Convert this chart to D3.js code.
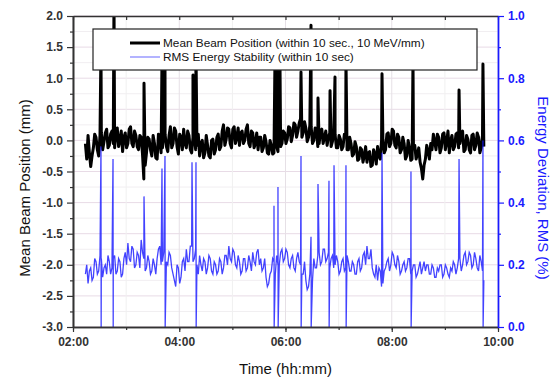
<!DOCTYPE html>
<html>
<head>
<meta charset="utf-8">
<script src="https://cdn.jsdelivr.net/npm/d3@7"></script>
<style>
    body { margin: 0; background: #fff; }
    #chart { width: 554px; height: 377px; }
    text { font-family: Arial, "Liberation Sans", sans-serif; }
</style>
</head>
<body>
<div id="chart"></div>
<script>

// sample clock: minutes after 02:00, one reading every 3 min
// (the "Mid" arrays hold the readings half a step later)
const sampleStart = 14;
const sampleStep = 3;

// mean beam position (mm), left axis
const beamValues = [
    -0.05, 0.08, -0.42, -0.12, 0.05, -0.25, 0.12, -0.02, 0.18, -0.08,
    0.15, -0.12, 0.2, 0.0, -0.18, 0.12, -0.05, 0.22, -0.1, 0.08,
    -0.15, 0.05, -0.62, -0.2, 0.02, -0.25, -0.05, -0.3, 0.0, -0.12,
    0.1, -0.18, 0.22, -0.05, 0.15, -0.22, 0.05, 0.18, -0.12, 0.08,
    -0.2, 0.12, -0.08, -0.25, 0.0, -0.2, -0.08, -0.28, 0.02, -0.15,
    0.1, -0.1, 0.25, 0.02, 0.18, -0.12, 0.22, 0.05, -0.08, 0.15,
    0.0, 0.25, -0.1, 0.12, -0.05, -0.15, 0.05, -0.12, -0.02, -0.22,
    -0.08, -0.2, -0.1, 0.05, -0.05, 0.12, 0.02, 0.2, 0.08, 0.25,
    0.15, 0.35, 0.12, 0.2, 0.05, 0.22, 0.0, 0.15, -0.05, 0.18,
    0.05, -0.08, 0.12, -0.02, 0.1, -0.12, 0.02, -0.1, 0.08, -0.15,
    -0.05, -0.22, -0.1, -0.3, -0.15, -0.25, -0.35, -0.18, -0.4, -0.22,
    -0.1, -0.3, 0.02, -0.15, 0.12, -0.05, 0.15, -0.12, 0.05, -0.15,
    -0.05, -0.25, -0.12, -0.3, -0.08, -0.22, -0.35, -0.62, -0.3, -0.18,
    -0.05, 0.1, -0.15, 0.05, -0.12, 0.12, -0.02, -0.2, 0.08, -0.1,
    0.12, -0.05, 0.15, -0.15, 0.02, -0.2, 0.1, -0.08, 0.05, -0.12,
    -0.1
];
const beamMidValues = [
    -0.3, -0.2, -0.25, 0.1, -0.15, 0.08, -0.15, 0.12, -0.12, 0.1,
    -0.05, 0.12, -0.1, 0.15, 0.05, -0.12, 0.18, -0.05, 0.15, -0.1,
    0.08, -0.22, -0.4, 0.05, -0.15, 0.08, -0.28, 0.1, -0.2, 0.12,
    -0.1, 0.08, -0.12, 0.2, -0.1, 0.1, -0.15, -0.05, 0.15, -0.15,
    0.05, -0.15, 0.1, -0.05, -0.28, 0.08, -0.25, 0.0, -0.22, 0.05,
    -0.15, 0.15, -0.08, 0.2, -0.05, 0.18, -0.05, 0.2, 0.12, -0.05,
    0.18, -0.05, 0.15, -0.12, 0.12, 0.05, -0.18, 0.08, -0.2, 0.0,
    -0.22, 0.02, -0.18, -0.1, 0.15, -0.05, 0.22, -0.02, 0.28, 0.05,
    0.28, 0.05, 0.3, -0.02, 0.25, -0.05, 0.2, -0.1, 0.15, -0.05,
    0.15, 0.05, -0.1, 0.15, -0.12, 0.08, -0.15, 0.1, -0.15, 0.05,
    -0.25, -0.02, -0.32, -0.12, -0.35, -0.1, -0.2, -0.42, -0.15, -0.38,
    -0.25, 0.0, -0.2, 0.1, -0.1, 0.18, -0.08, 0.1, -0.2, 0.05,
    -0.3, 0.0, -0.32, -0.1, -0.3, -0.12, -0.45, -0.4, -0.08, -0.3,
    -0.15, -0.02, 0.1, -0.2, 0.1, -0.15, 0.15, 0.0, -0.15, 0.1,
    -0.12, 0.1, -0.18, 0.08, -0.15, 0.08, -0.15, 0.12, -0.2, 0.08
];
const beamSpikeMinutes = [31.6, 46.3, 80.2, 100.5, 103.9, 135.5, 138.9, 228.1, 231.5, 233.8,
    257.5, 268.8, 276.7, 290.3, 295.9, 308.3, 349, 384, 436, 463];
const beamSpikePeaks = [1.5, 2.3, 0.92, 1.3, 1.4, 1.05, 1.45, 1.3, 1.35, 1.2,
    1.1, 1.85, 0.68, 0.8, 1.02, 1.3, 1.07, 1.3, 0.81, 1.23];

// RMS energy deviation (%), right axis
const rmsValues = [
    0.17, 0.14, 0.19, 0.16, 0.21, 0.18, 0.22, 0.19, 0.17, 0.21,
    0.19, 0.23, 0.18, 0.21, 0.17, 0.24, 0.27, 0.21, 0.25, 0.2,
    0.23, 0.28, 0.22, 0.19, 0.21, 0.18, 0.2, 0.22, 0.26, 0.21,
    0.25, 0.2, 0.23, 0.17, 0.13, 0.19, 0.16, 0.22, 0.25, 0.21,
    0.26, 0.22, 0.2, 0.23, 0.18, 0.21, 0.19, 0.22, 0.17, 0.2,
    0.18, 0.21, 0.19, 0.23, 0.26, 0.21, 0.24, 0.19, 0.21, 0.18,
    0.22, 0.19, 0.21, 0.24, 0.2, 0.25, 0.22, 0.19, 0.16, 0.14,
    0.18, 0.21, 0.23, 0.2, 0.25, 0.22, 0.24, 0.19, 0.23, 0.18,
    0.24, 0.2, 0.17, 0.15, 0.13, 0.18, 0.22, 0.19, 0.24, 0.21,
    0.25, 0.22, 0.19, 0.23, 0.2, 0.21, 0.18, 0.22, 0.19, 0.21,
    0.18, 0.2, 0.17, 0.22, 0.19, 0.24, 0.26, 0.22, 0.19, 0.16,
    0.15, 0.18, 0.14, 0.19, 0.22, 0.2, 0.23, 0.19, 0.21, 0.18,
    0.21, 0.19, 0.22, 0.18, 0.2, 0.17, 0.21, 0.19, 0.18, 0.2,
    0.17, 0.19, 0.16, 0.18, 0.2, 0.17, 0.19, 0.16, 0.18, 0.2,
    0.19, 0.22, 0.2, 0.24, 0.21, 0.23, 0.2, 0.22, 0.18, 0.21,
    0.15
];
const rmsMidValues = [
    0.2, 0.18, 0.15, 0.22, 0.17, 0.23, 0.16, 0.2, 0.23, 0.17,
    0.22, 0.17, 0.22, 0.16, 0.22, 0.2, 0.22, 0.26, 0.19, 0.24,
    0.19, 0.24, 0.18, 0.23, 0.17, 0.22, 0.17, 0.25, 0.2, 0.24,
    0.21, 0.24, 0.19, 0.15, 0.2, 0.14, 0.21, 0.18, 0.21, 0.26,
    0.21, 0.25, 0.17, 0.2, 0.22, 0.17, 0.23, 0.18, 0.21, 0.17,
    0.22, 0.17, 0.23, 0.2, 0.22, 0.25, 0.2, 0.23, 0.17, 0.22,
    0.18, 0.23, 0.18, 0.21, 0.24, 0.2, 0.18, 0.22, 0.13, 0.17,
    0.22, 0.17, 0.2, 0.24, 0.21, 0.25, 0.2, 0.22, 0.19, 0.22,
    0.21, 0.17, 0.21, 0.12, 0.17, 0.15, 0.19, 0.23, 0.2, 0.25,
    0.21, 0.24, 0.22, 0.19, 0.23, 0.17, 0.21, 0.18, 0.23, 0.18,
    0.21, 0.17, 0.21, 0.18, 0.23, 0.2, 0.22, 0.25, 0.17, 0.2,
    0.19, 0.13, 0.18, 0.21, 0.18, 0.24, 0.2, 0.23, 0.17, 0.2,
    0.18, 0.22, 0.17, 0.2, 0.16, 0.19, 0.17, 0.21, 0.2, 0.17,
    0.2, 0.16, 0.19, 0.2, 0.16, 0.2, 0.17, 0.19, 0.21, 0.17,
    0.22, 0.18, 0.23, 0.2, 0.24, 0.19, 0.24, 0.19, 0.23, 0.18
];
const rmsSpikeMinutes = [31.6, 45.2, 80.2, 100.5, 103.9, 134.4, 138.9, 227, 231.5, 257.5,
    268.8, 276.7, 289.1, 294.8, 308.3, 349, 381.7, 436, 463];
const rmsSpikeHighs = [0.58, 0.54, 0.42, 0.51, 0.55, 0.53, 0.53, 0.39, 0.45, 0.55,
    0.29, 0.46, 0.47, 0.52, 0.52, 0.56, 0.5, 0.54, 0.6];
// null = the spike does not drop to zero
const rmsSpikeLows = [0, 0, null, null, 0, null, 0, 0, 0, 0,
    0, null, 0, null, 0, null, 0, null, 0];

const seriesNames = ["Mean Beam Position (within 10 sec., 10 MeV/mm)", "RMS Energy Stability (within 10 sec)"];
const leftTicks = [-3.0, -2.5, -2.0, -1.5, -1.0, -0.5, 0.0, 0.5, 1.0, 1.5, 2.0];
const leftMinorTicks = [-2.75, -2.25, -1.75, -1.25, -0.75, -0.25, 0.25, 0.75, 1.25, 1.75];
const rightTicks = [0.0, 0.2, 0.4, 0.6, 0.8, 1.0];
const rightMinorTicks = [0.1, 0.3, 0.5, 0.7, 0.9];


class BeamVis {

    constructor(parentElement) {
        this.parentElement = parentElement;
        this.dayStart = new Date(2000, 0, 1, 2, 0);
        this.initVis();
    }

    toDate(minutes) {
        return new Date(this.dayStart.getTime() + minutes * 60000);
    }

    // readings + half-step readings, spikes get added after
    buildPoints(values, midValues) {
        let pts = values.map((v, i) => ({t: sampleStart + i * sampleStep, v: v}));
        midValues.forEach((v, i) => pts.push({t: sampleStart + (i + 0.5) * sampleStep, v: v}));
        return pts;
    }

    initVis() {
        let vis = this;

        vis.margin = {top: 16, right: 56, bottom: 50, left: 73};
        vis.width = 554 - vis.margin.left - vis.margin.right;
        vis.height = 377 - vis.margin.top - vis.margin.bottom;

        vis.svg = d3.select("#" + vis.parentElement).append("svg")
            .attr("width", 554)
            .attr("height", 377)
            .append("g")
            .attr("transform", "translate(" + vis.margin.left + "," + vis.margin.top + ")");

        // scales
        vis.x = d3.scaleTime()
            .domain([vis.toDate(0), vis.toDate(480)])
            .range([0, vis.width]);
        vis.yLeft = d3.scaleLinear().domain([-3, 2]).range([vis.height, 0]);
        vis.yRight = d3.scaleLinear().domain([0, 1]).range([vis.height, 0]);

        // grid
        let grid = vis.svg.append("g").attr("class", "grid");
        grid.selectAll(".hminor").data(leftMinorTicks).join("line")
            .attr("x1", 0).attr("x2", vis.width)
            .attr("y1", d => vis.yLeft(d)).attr("y2", d => vis.yLeft(d))
            .attr("stroke", "#f1eef1").attr("stroke-width", 1);
        grid.selectAll(".hmajor").data(leftTicks).join("line")
            .attr("x1", 0).attr("x2", vis.width)
            .attr("y1", d => vis.yLeft(d)).attr("y2", d => vis.yLeft(d))
            .attr("stroke", "#e8dbe6").attr("stroke-width", 1);
        grid.selectAll(".vgrid").data(vis.x.ticks(d3.timeHour.every(1))).join("line")
            .attr("x1", d => vis.x(d)).attr("x2", d => vis.x(d))
            .attr("y1", 0).attr("y2", vis.height)
            .attr("stroke", d => d.getHours() % 2 === 0 ? "#e6e0e6" : "#f0f0f0")
            .attr("stroke-width", 1);

        vis.svg.append("clipPath").attr("id", "plotClip")
            .append("rect").attr("width", vis.width).attr("height", vis.height);

        vis.plot = vis.svg.append("g").attr("clip-path", "url(#plotClip)");

        vis.updateVis();
        vis.drawAxes();
        vis.drawLegend();
    }

    updateVis() {
        let vis = this;

        let beamPoints = vis.buildPoints(beamValues, beamMidValues);
        beamSpikeMinutes.forEach((m, i) => beamPoints.push({t: m, v: beamSpikePeaks[i]}));
        beamPoints.sort((a, b) => a.t - b.t);

        let rmsPoints = vis.buildPoints(rmsValues, rmsMidValues);
        rmsSpikeMinutes.forEach((m, i) => {
            rmsPoints.push({t: m, v: rmsSpikeHighs[i]});
            if (rmsSpikeLows[i] !== null) {
                rmsPoints.push({t: m + 0.2, v: rmsSpikeLows[i]});
            }
        });
        rmsPoints.sort((a, b) => a.t - b.t);

        let beamLine = d3.line()
            .x(d => vis.x(vis.toDate(d.t)))
            .y(d => vis.yLeft(d.v));
        let rmsLine = d3.line()
            .x(d => vis.x(vis.toDate(d.t)))
            .y(d => vis.yRight(d.v));

        vis.plot.append("path")
            .datum(beamPoints)
            .attr("d", beamLine)
            .attr("fill", "none")
            .attr("stroke", "#000")
            .attr("stroke-width", 3)
            .attr("stroke-linejoin", "round");

        vis.plot.append("path")
            .datum(rmsPoints)
            .attr("d", rmsLine)
            .attr("fill", "none")
            .attr("stroke", "#1414ff")
            .attr("stroke-opacity", 0.8)
            .attr("stroke-width", 1.3);
    }

    drawAxes() {
        let vis = this;
        let fmt = d => d.toFixed(1);
        let blue = "#1a1aff";

        // left
        vis.svg.append("g")
            .call(d3.axisLeft(vis.yLeft).tickValues(leftMinorTicks).tickSize(3).tickFormat("").tickSizeOuter(0));
        let left = vis.svg.append("g")
            .call(d3.axisLeft(vis.yLeft).tickValues(leftTicks).tickSize(6).tickPadding(4).tickFormat(fmt).tickSizeOuter(0));
        left.selectAll("text").style("font-size", "12px").style("font-weight", "bold").attr("fill", "#333");

        // bottom
        vis.svg.append("g")
            .attr("transform", "translate(0," + vis.height + ")")
            .call(d3.axisBottom(vis.x).ticks(d3.timeHour.every(1)).tickSize(3).tickFormat("").tickSizeOuter(0));
        let bottom = vis.svg.append("g")
            .attr("transform", "translate(0," + vis.height + ")")
            .call(d3.axisBottom(vis.x).ticks(d3.timeHour.every(2)).tickSize(5).tickPadding(5)
                .tickFormat(d3.timeFormat("%H:%M")).tickSizeOuter(0));
        bottom.selectAll("text").style("font-size", "12px").style("font-weight", "bold").attr("fill", "#333");

        // top, inward ticks, no labels
        vis.svg.append("g")
            .call(d3.axisTop(vis.x).ticks(d3.timeHour.every(1)).tickSize(-4).tickFormat("").tickSizeOuter(0));

        vis.svg.selectAll(".domain").attr("stroke", "#333").attr("stroke-width", 1.6);
        vis.svg.selectAll(".tick line").attr("stroke", "#333").attr("stroke-width", 1.2);

        // right, blue
        let rightMinor = vis.svg.append("g")
            .attr("transform", "translate(" + vis.width + ",0)")
            .call(d3.axisRight(vis.yRight).tickValues(rightMinorTicks).tickSize(3).tickFormat("").tickSizeOuter(0));
        let right = vis.svg.append("g")
            .attr("transform", "translate(" + vis.width + ",0)")
            .call(d3.axisRight(vis.yRight).tickValues(rightTicks).tickSize(6).tickPadding(4).tickFormat(fmt).tickSizeOuter(0));
        right.selectAll("text").style("font-size", "12px").style("font-weight", "bold").attr("fill", blue);
        [rightMinor, right].forEach(g => {
            g.selectAll(".tick line").attr("stroke", blue).attr("stroke-width", 1.2);
            g.select(".domain").attr("stroke", blue).attr("stroke-width", 1.4);
        });

        // titles
        vis.svg.append("text")
            .attr("transform", "translate(" + (25 - vis.margin.left) + "," + (188 - vis.margin.top) + ") rotate(-90)")
            .attr("text-anchor", "middle")
            .attr("dy", "0.35em")
            .style("font-size", "15px")
            .attr("fill", "#111")
            .text("Mean Beam Position (mm)");

        vis.svg.append("text")
            .attr("transform", "translate(" + (543 - vis.margin.left) + "," + (188 - vis.margin.top) + ") rotate(90)")
            .attr("text-anchor", "middle")
            .attr("dy", "0.35em")
            .style("font-size", "15px")
            .attr("fill", blue)
            .text("Energy Deviation, RMS (%)");

        vis.svg.append("text")
            .attr("x", vis.width / 2)
            .attr("y", vis.height + 47)
            .attr("text-anchor", "middle")
            .style("font-size", "15px")
            .attr("fill", "#111")
            .text("Time (hh:mm)");
    }

    drawLegend() {
        let vis = this;

        let legend = vis.svg.append("g").attr("transform", "translate(20,13)");
        legend.append("rect")
            .attr("width", 384).attr("height", 41)
            .attr("fill", "#fff").attr("stroke", "#222").attr("stroke-width", 1.2);

        let rows = legend.selectAll(".row").data(seriesNames).join("g")
            .attr("transform", (d, i) => "translate(0," + (14 + i * 14) + ")");
        rows.append("line")
            .attr("x1", 37).attr("x2", 67)
            .attr("stroke", (d, i) => i === 0 ? "#000" : "#8080ff")
            .attr("stroke-width", (d, i) => i === 0 ? 3 : 1.2);
        rows.append("text")
            .attr("x", 70).attr("dy", "0.35em")
            .style("font-size", "11.8px")
            .attr("fill", "#111")
            .text(d => d);
    }
}

new BeamVis("chart");
</script>
</body>
</html>
